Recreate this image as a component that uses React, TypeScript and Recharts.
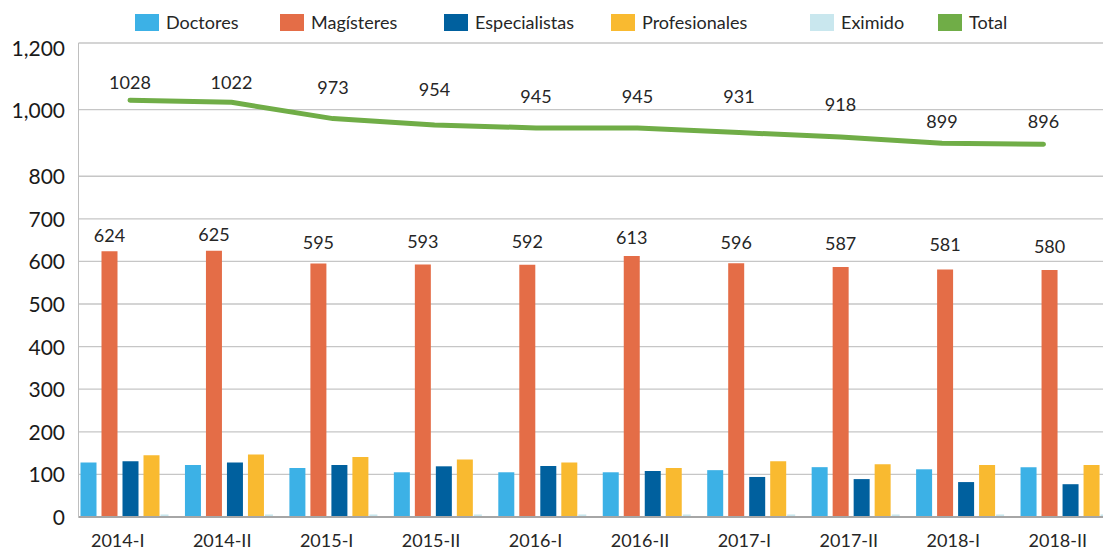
import React from 'react';
import {
  ComposedChart,
  Bar,
  Line,
  XAxis,
  YAxis,
  CartesianGrid,
  LabelList,
} from 'recharts';

// Academic periods on the category axis
const periods = ['2014-I', '2014-II', '2015-I', '2015-II', '2016-I', '2016-II', '2017-I', '2017-II', '2018-I', '2018-II'];

// Teaching staff by highest degree
const doctores = [128, 122, 115, 105, 105, 105, 110, 117, 112, 117];
const magisteres = [624, 625, 595, 593, 592, 613, 596, 587, 581, 580];
const especialistas = [131, 128, 122, 119, 120, 108, 94, 89, 82, 77];
const profesionales = [145, 147, 141, 135, 128, 115, 131, 124, 122, 122];
const eximido = [6, 6, 6, 6, 6, 6, 6, 6, 6, 6];
const total = [1028, 1022, 973, 954, 945, 945, 931, 918, 899, 896];

// Value axis: 0–800 in steps of 100, then 1,000 and 1,200 on a compressed upper band
const yTickValues = [0, 100, 200, 300, 400, 500, 600, 700, 800, 1000, 1200];
const yTickLabels = ['0', '100', '200', '300', '400', '500', '600', '700', '800', '1,000', '1,200'];

const BREAK = 800;
const UPPER_RATIO = 0.782;
const toAxis = (v: number) => (v <= BREAK ? v : BREAK + (v - BREAK) * UPPER_RATIO);

const FONT = "Lato, 'Open Sans', sans-serif";
const TEXT = '#262626';

const COLORS = {
  doctores: '#3CB1E6',
  magisteres: '#E46D47',
  especialistas: '#00609E',
  profesionales: '#F9BA30',
  eximido: '#C9E7EE',
  total: '#70AD47',
};

const legendItems = [
  { name: 'Doctores', color: COLORS.doctores, left: 135 },
  { name: 'Magísteres', color: COLORS.magisteres, left: 280 },
  { name: 'Especialistas', color: COLORS.especialistas, left: 444 },
  { name: 'Profesionales', color: COLORS.profesionales, left: 611 },
  { name: 'Eximido', color: COLORS.eximido, left: 810 },
  { name: 'Total', color: COLORS.total, left: 938 },
];

const rows = periods.map((periodo, i) => ({
  periodo,
  doctores: doctores[i],
  magisteres: magisteres[i],
  especialistas: especialistas[i],
  profesionales: profesionales[i],
  eximido: eximido[i],
  total: total[i],
}));

// Hand-tuned label lifts (px above the mark)
const magLift = [9, 10, 15, 16, 17, 12, 14, 17, 19, 17];
const totalLift = [18, 20, 31, 35, 31, 31, 36, 32, 22, 23];

const readBox = (p: any) => {
  const vb = p.viewBox || {};
  return {
    x: p.x ?? vb.x ?? 0,
    y: p.y ?? vb.y ?? 0,
    width: p.width ?? vb.width ?? 0,
  };
};

const MagLabel = (props: any) => {
  const { x, y, width } = readBox(props);
  const i = props.index ?? 0;
  return (
    <text x={x + width / 2} y={y - magLift[i]} textAnchor="middle" fontSize={18} fontFamily={FONT} fill={TEXT}>
      {props.value}
    </text>
  );
};

const TotalLabel = (props: any) => {
  const { x, y } = readBox(props);
  const i = props.index ?? 0;
  return (
    <text x={x} y={y - totalLift[i] + 6.5} textAnchor="middle" fontSize={18} fontFamily={FONT} fill={TEXT}>
      {props.value}
    </text>
  );
};

const PeriodTick = (props: any) => {
  const { x, y, payload } = props;
  return (
    <text x={x - 13} y={y} dy={29.5} textAnchor="middle" fontSize={18} fontFamily={FONT} fill={TEXT}>
      {payload.value}
    </text>
  );
};

const ValueTick = (props: any) => {
  const { x, y, index } = props;
  const isTop = index === yTickValues.length - 1;
  return (
    <text x={x - 13.5} y={y + (isTop ? 5.5 : 0.5)} dy="0.36em" textAnchor="end" fontSize={21} fontFamily={FONT} fill="#1A1A1A">
      {yTickLabels[index]}
    </text>
  );
};

// Eximido bars sit snug against the Profesionales bar, at half width
const EximidoShape = (props: any) => {
  const { x, y, width, height, fill } = props;
  if (!height || height <= 0) return null;
  return <rect x={x - 4} y={y} width={width / 2} height={height} fill={fill} />;
};

export default function App() {
  return (
    <div
      style={{
        position: 'absolute',
        left: 0,
        top: 0,
        width: 1103,
        height: 550,
        overflow: 'hidden',
        background: '#fff',
      }}
    >
      <ComposedChart
        width={1123}
        height={550}
        data={rows}
        margin={{ top: 43, right: 0, bottom: 3, left: 0 }}
        barGap={5}
      >
        <CartesianGrid vertical={false} stroke="#C6C6C6" strokeWidth={1.3} />
        <XAxis
          dataKey="periodo"
          interval={0}
          height={30}
          tickLine={false}
          tickSize={0}
          tickMargin={0}
          axisLine={{ stroke: '#A6A6A6', strokeWidth: 2 }}
          tick={<PeriodTick />}
        />
        <XAxis
          xAxisId="pts"
          dataKey="periodo"
          type="category"
          scale="point"
          hide
          padding={{ left: 51.5, right: 79.5 }}
        />
        <YAxis
          type="number"
          width={78.5}
          domain={[0, toAxis(1200)]}
          ticks={yTickValues.map(toAxis)}
          interval={0}
          allowDataOverflow
          tickLine={false}
          tickSize={0}
          tickMargin={0}
          axisLine={{ stroke: '#BFBFBF', strokeWidth: 1 }}
          tick={<ValueTick />}
        />
        <Bar dataKey={(r: any) => toAxis(r.doctores)} name="Doctores" fill={COLORS.doctores} barSize={16} isAnimationActive={false} />
        <Bar dataKey={(r: any) => toAxis(r.magisteres)} name="Magísteres" fill={COLORS.magisteres} barSize={16} isAnimationActive={false}>
          <LabelList dataKey="magisteres" content={<MagLabel />} />
        </Bar>
        <Bar dataKey={(r: any) => toAxis(r.especialistas)} name="Especialistas" fill={COLORS.especialistas} barSize={16} isAnimationActive={false} />
        <Bar dataKey={(r: any) => toAxis(r.profesionales)} name="Profesionales" fill={COLORS.profesionales} barSize={16} isAnimationActive={false} />
        <Bar
          dataKey={(r: any) => toAxis(r.eximido)}
          name="Eximido"
          fill={COLORS.eximido}
          barSize={16}
          shape={<EximidoShape />}
          isAnimationActive={false}
        />
        <Line
          xAxisId="pts"
          type="linear"
          dataKey={(r: any) => toAxis(r.total)}
          name="Total"
          stroke={COLORS.total}
          strokeWidth={5}
          strokeLinecap="round"
          strokeLinejoin="round"
          dot={false}
          activeDot={false}
          isAnimationActive={false}
        >
          <LabelList dataKey="total" content={<TotalLabel />} />
        </Line>
      </ComposedChart>

      {legendItems.map((item) => (
        <div
          key={item.name}
          style={{
            position: 'absolute',
            top: 14,
            left: item.left,
            height: 17,
            display: 'flex',
            alignItems: 'center',
            fontFamily: FONT,
            fontSize: 18,
            color: TEXT,
            whiteSpace: 'nowrap',
          }}
        >
          <span style={{ display: 'inline-block', width: 24, height: 17, background: item.color, marginRight: 7 }} />
          <span style={{ lineHeight: '17px' }}>{item.name}</span>
        </div>
      ))}
    </div>
  );
}
